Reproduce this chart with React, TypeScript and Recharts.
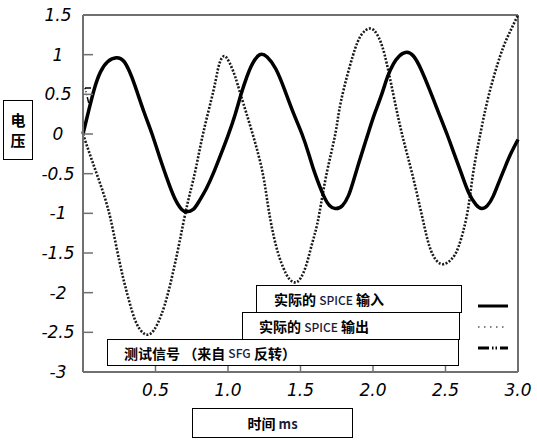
import React from 'react';
import { LineChart, Line, XAxis, YAxis, ReferenceLine } from 'recharts';

// SPICE input (solid)
const inputT = [0, 0.04, 0.08, 0.12, 0.17, 0.23, 0.28, 0.32, 0.36, 0.42, 0.476, 0.53, 0.577, 0.63, 0.68, 0.715, 0.76, 0.8, 0.85, 0.9, 0.95, 1.0, 1.05, 1.09, 1.13, 1.17, 1.22, 1.27, 1.33, 1.39, 1.45, 1.51, 1.56, 1.6, 1.66, 1.7, 1.74, 1.79, 1.83, 1.86, 1.91, 1.96, 2.01, 2.06, 2.1, 2.14, 2.18, 2.23, 2.28, 2.33, 2.39, 2.45, 2.51, 2.56, 2.61, 2.66, 2.71, 2.75, 2.79, 2.83, 2.87, 2.91, 2.95, 3.0];
const inputV = [0, 0.3, 0.58, 0.78, 0.91, 0.96, 0.92, 0.79, 0.6, 0.28, 0, -0.3, -0.55, -0.8, -0.95, -0.98, -0.95, -0.85, -0.69, -0.49, -0.26, -0.02, 0.25, 0.5, 0.72, 0.89, 1.0, 0.97, 0.82, 0.56, 0.27, 0, -0.27, -0.5, -0.78, -0.9, -0.94, -0.9, -0.78, -0.62, -0.32, -0.03, 0.25, 0.5, 0.72, 0.88, 0.98, 1.03, 0.98, 0.82, 0.56, 0.28, 0, -0.25, -0.5, -0.74, -0.89, -0.94, -0.9, -0.78, -0.6, -0.42, -0.25, -0.07];

// SPICE output (dotted)
const outputT = [0, 0.05, 0.1, 0.15, 0.19, 0.23, 0.27, 0.3, 0.35, 0.4, 0.445, 0.49, 0.54, 0.59, 0.65, 0.7, 0.74, 0.78, 0.83, 0.9, 0.935, 0.97, 1.01, 1.05, 1.09, 1.17, 1.24, 1.28, 1.33, 1.38, 1.42, 1.46, 1.5, 1.54, 1.57, 1.6, 1.63, 1.68, 1.74, 1.78, 1.86, 1.92, 1.98, 2.03, 2.08, 2.14, 2.2, 2.27, 2.34, 2.39, 2.44, 2.49, 2.54, 2.59, 2.65, 2.69, 2.74, 2.8, 2.88, 2.94, 3.0];
const outputV = [0, -0.27, -0.53, -0.8, -1.07, -1.42, -1.76, -1.98, -2.3, -2.48, -2.53, -2.47, -2.28, -1.98, -1.5, -1.05, -0.73, -0.42, 0.02, 0.55, 0.85, 0.98, 0.9, 0.72, 0.48, 0, -0.5, -0.95, -1.4, -1.68, -1.82, -1.87, -1.82, -1.65, -1.45, -1.25, -1.0, -0.5, 0, 0.42, 0.98, 1.25, 1.33, 1.25, 1.0, 0.5, 0, -0.5, -1.05, -1.42, -1.6, -1.64, -1.58, -1.42, -1.0, -0.5, 0, 0.5, 1.0, 1.27, 1.5];

// Test signal (dash-dot-dot), only a small fragment visible
const testT = [0.014, 0.083, 0.041, 0.014];
const testV = [0.58, 0.58, 0.38, 0.58];

const xTicks = [0.5, 1.0, 1.5, 2.0, 2.5, 3.0];
const yTicks = [-3, -2.5, -2, -1.5, -1, -0.5, 0, 0.5, 1, 1.5];

const legendLabels = ['实际的 SPICE 输入', '实际的 SPICE 输出', '测试信号 （来自 SFG 反转）'];
const yTitle = ['电', '压'];
const xTitle = ['时间', 'ms'];

const toRows = (t: number[], v: number[]) => t.map((tt, i) => ({ t: tt, v: v[i] }));
const inputData = toRows(inputT, inputV);
const outputData = toRows(outputT, outputV);
const testData = toRows(testT, testV);

const AXIS = '#707070';
const TICK_FONT = "'DejaVu Sans', sans-serif";
const CJK = "'Noto Sans CJK SC', 'Noto Sans', sans-serif";

const YTick = (props: any) => {
  const { x, y, payload } = props;
  return (
    <g>
      <line x1={x} x2={x + 10} y1={y} y2={y} stroke={AXIS} strokeWidth={1.5} />
      <text x={x - 25} y={y} dy={6} textAnchor="middle" fontFamily={TICK_FONT} fontStyle="italic" fontSize={17} fill="#000">
        {String(payload.value)}
      </text>
    </g>
  );
};

const XTick = (props: any) => {
  const { x, y, payload } = props;
  return (
    <g>
      <line x1={x} x2={x} y1={y} y2={y - 10} stroke={AXIS} strokeWidth={1.5} />
      <text x={x} y={y + 24} textAnchor="middle" fontFamily={TICK_FONT} fontStyle="italic" fontSize={17} fill="#000">
        {Number(payload.value).toFixed(1)}
      </text>
    </g>
  );
};

const boxBase: React.CSSProperties = {
  position: 'absolute',
  boxSizing: 'border-box',
  border: '1.5px solid #000',
  background: '#fff',
  display: 'flex',
  alignItems: 'center',
  fontFamily: CJK,
  fontWeight: 700,
  fontSize: 14,
  color: '#000',
  whiteSpace: 'pre',
};

const latin: React.CSSProperties = { fontSize: 12, fontWeight: 500, color: '#1b1b3a' };

const renderLabel = (s: string) => {
  const parts = s.split(/([A-Za-z]+)/);
  return parts.map((p, i) => (/^[A-Za-z]+$/.test(p) ? <span key={i} style={latin}>{p}</span> : <span key={i}>{p}</span>));
};

export default function App() {
  return (
    <div style={{ position: 'relative', width: 537, height: 444, background: '#fff', overflow: 'hidden' }}>
      <style>{'body{margin:0;background:#fff;}'}</style>
      <LineChart width={537} height={444} margin={{ top: 15, right: 19, left: 0, bottom: 0 }}>
        <XAxis
          type="number"
          dataKey="t"
          domain={[0, 3]}
          ticks={xTicks}
          interval={0}
          height={72}
          tickSize={0}
          tickMargin={0}
          tickLine={false}
          axisLine={{ stroke: AXIS, strokeWidth: 2 }}
          tick={<XTick />}
          allowDuplicatedCategory={false}
        />
        <YAxis
          type="number"
          domain={[-3, 1.5]}
          ticks={yTicks}
          interval={0}
          width={83}
          tickSize={0}
          tickMargin={0}
          tickLine={false}
          axisLine={{ stroke: AXIS, strokeWidth: 2 }}
          tick={<YTick />}
        />
        <ReferenceLine y={1.5} stroke={AXIS} strokeWidth={2} />
        <ReferenceLine x={3} stroke={AXIS} strokeWidth={2} />
        <Line data={outputData} dataKey="v" type="natural" stroke="#1a1a1a" strokeWidth={2.6} strokeDasharray="2 1.6" dot={false} isAnimationActive={false} />
        <Line data={inputData} dataKey="v" type="natural" stroke="#000" strokeWidth={3.5} dot={false} isAnimationActive={false} />
        <Line data={testData} dataKey="v" type="linear" stroke="#000" strokeWidth={1.5} strokeDasharray="6 2 1 2 1 2" dot={false} isAnimationActive={false} />
      </LineChart>

      {/* legend boxes */}
      <div style={{ ...boxBase, left: 107, top: 339, width: 352, height: 27, paddingLeft: 16 }}>{renderLabel(legendLabels[2])}</div>
      <div style={{ ...boxBase, left: 242, top: 312, width: 218, height: 28, paddingLeft: 16 }}>{renderLabel(legendLabels[1])}</div>
      <div style={{ ...boxBase, left: 256, top: 285, width: 206, height: 28, paddingLeft: 17 }}>{renderLabel(legendLabels[0])}</div>

      {/* legend line samples */}
      <svg width={537} height={444} style={{ position: 'absolute', left: 0, top: 0, pointerEvents: 'none' }}>
        <line x1={478} x2={508} y1={306} y2={306} stroke="#000" strokeWidth={3} />
        <line x1={478} x2={508} y1={327} y2={327} stroke="#555" strokeWidth={1.5} strokeDasharray="1.5 4.5" />
        <line x1={478} x2={508} y1={348} y2={348} stroke="#000" strokeWidth={3} strokeDasharray="11 3 1.5 2 1.5 3 11" />
      </svg>

      {/* y axis title */}
      <div style={{ ...boxBase, left: 3, top: 100, width: 30, height: 60, flexDirection: 'column', justifyContent: 'center', fontSize: 15, lineHeight: '20px' }}>
        {yTitle.map((c, i) => <span key={i}>{c}</span>)}
      </div>

      {/* x axis title */}
      <div style={{ ...boxBase, left: 192, top: 408, width: 161, height: 30, justifyContent: 'center', fontSize: 14 }}>
        <span>{xTitle[0]} </span>
        <span style={{ ...latin, fontSize: 13, fontWeight: 700 }}>{xTitle[1]}</span>
      </div>
    </div>
  );
}
